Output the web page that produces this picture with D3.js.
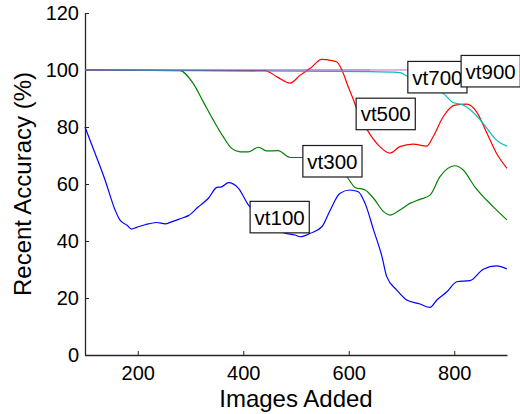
<!DOCTYPE html>
<html>
<head>
<meta charset="utf-8">
<script src="https://cdn.jsdelivr.net/npm/d3@7"></script>
<style>
  body { margin: 0; background: #fff; }
  svg { display: block; font-family: "Liberation Sans", Arial, sans-serif; }
</style>
</head>
<body>
<div id="chart"></div>
<script>
// values
var vt100X = [100,119,138,157,166,180,188,198,214,236,252,264,283,296,315,334,350,359,372,391,410,430,455,475,498,508,527,549,565,583,602,618,631,647,663,672,691,710,735,754,767,786,805,830,855,880,900];
var vt100Y = [80,70.8,61.4,50.9,47.4,45.5,44.2,44.8,45.7,46.5,46,46.7,48,48.9,52,55,58.8,59,60.5,58.5,52.6,49,45.5,43,42.1,41.5,42.7,45,50.9,56.7,57.9,57.3,53.2,43.9,34.5,27.5,22.8,19.3,17.9,16.7,19.3,22.2,25.7,26.1,30.1,31.3,30.2];

var vt300X = [100,280,305,324,343,362,378,394,410,429,444,466,489,511,530,550,570,596,612,631,647,666,678,697,716,735,754,773,801,817,839,874,900];
var vt300Y = [100,99.8,95.3,88.9,82.5,76.6,72.5,71.3,71.3,72.9,71.6,71.7,69.3,69.3,68.5,67,65,62.6,58.8,57.9,55,50.3,49.1,50.9,53.2,54.6,56.1,62.6,66.4,64.9,59,52,47.4];

var vt500X = [100,441,465,489,508,527,549,568,577,587,599,609,620,637,659,678,697,722,748,760,779,801,824,842,862,880,900];
var vt500Y = [100,99.8,97.5,95.4,98.2,100.6,103.7,103.3,102.9,100,94.1,89.5,84,78.4,73.1,70.8,73.1,74,73.3,76.6,83.6,87.7,88,85.4,77.8,70.8,65.5];

var vt700X = [100,640,697,710,730,755,779,798,817,842,862,880,900];
var vt700Y = [100,99.4,99.1,97.9,96,94,91.8,88.6,87.7,84,79.5,75.4,73.3];

var vt900X = [100,900];
var vt900Y = [100,100];

var labelNames = ["vt100","vt300","vt500","vt700","vt900"];
var labelX = [413,513,614,712,813];
var labelY = [48.4,68,84.6,97.5,99.6];

var xTicks = [200,400,600,800];
var yTicks = [0,20,40,60,80,100,120];

var series = [
  {x: vt100X, y: vt100Y, color: "#0000ff"},
  {x: vt300X, y: vt300Y, color: "#008000"},
  {x: vt500X, y: vt500Y, color: "#ff0000"},
  {x: vt700X, y: vt700Y, color: "#00bfbf"},
  {x: vt900X, y: vt900Y, color: "url(#purp)"}
];

var W = 520, H = 414;
var margin = {top: 13, right: 13, bottom: 59, left: 85};

var xScale = d3.scaleLinear().domain([100, 900]).range([margin.left, W - margin.right]);
var yScale = d3.scaleLinear().domain([0, 120]).range([H - margin.bottom, margin.top]);

var svg = d3.select("#chart").append("svg")
  .attr("width", W)
  .attr("height", H);

// vt900 sits under the other lines on the left, so it looks darker there
var grad = svg.append("defs").append("linearGradient")
  .attr("id", "purp")
  .attr("gradientUnits", "userSpaceOnUse")
  .attr("x1", xScale(100)).attr("x2", xScale(900))
  .attr("y1", 0).attr("y2", 0);
var split = (640 - 100) / 800;
grad.append("stop").attr("offset", 0).attr("stop-color", "#8e3fae");
grad.append("stop").attr("offset", split).attr("stop-color", "#8e3fae");
grad.append("stop").attr("offset", split).attr("stop-color", "#cc66cc");
grad.append("stop").attr("offset", 1).attr("stop-color", "#cc66cc");

//************************************************************
// axes
//************************************************************
var xAxis = d3.axisBottom(xScale).tickValues(xTicks).tickSizeInner(-4).tickSizeOuter(0).tickPadding(10);
var yAxis = d3.axisLeft(yScale).tickValues(yTicks).tickSizeInner(-4).tickSizeOuter(0).tickPadding(9);

var gX = svg.append("g")
  .attr("transform", "translate(0," + (H - margin.bottom) + ")")
  .call(xAxis);
var gY = svg.append("g")
  .attr("transform", "translate(" + margin.left + ",0)")
  .call(yAxis);

[gX, gY].forEach(function(g) {
  g.select(".domain").attr("stroke", "#262626").attr("stroke-width", 1.3);
  g.selectAll(".tick line").attr("stroke", "#262626");
  g.selectAll(".tick text")
    .attr("fill", "#000")
    .style("font-size", "20px")
    .style("font-family", "'Liberation Sans', Arial, sans-serif");
});
gX.selectAll(".tick text").attr("dy", "0.75em").attr("y", 10);
gY.selectAll(".tick text").attr("x", -6);

svg.append("text")
  .attr("x", (xScale(100) + xScale(900)) / 2)
  .attr("y", 407)
  .attr("text-anchor", "middle")
  .style("font-size", "24px")
  .text("Images Added");

svg.append("text")
  .attr("transform", "translate(31," + ((yScale(0) + yScale(120)) / 2) + ") rotate(-90)")
  .attr("text-anchor", "middle")
  .style("font-size", "24px")
  .text("Recent Accuracy (%)");

//************************************************************
// lines
//************************************************************
var line = d3.line()
  .x(function(d) { return xScale(d[0]); })
  .y(function(d) { return yScale(d[1]); })
  .curve(d3.curveMonotoneX);

svg.selectAll(".line")
  .data(series)
  .enter()
  .append("path")
  .attr("class", "line")
  .attr("fill", "none")
  .attr("stroke", function(d) { return d.color; })
  .attr("stroke-width", 1.2)
  .attr("d", function(d) { return line(d.x.map(function(v, i) { return [v, d.y[i]]; })); });

//************************************************************
// text boxes
//************************************************************
labelNames.forEach(function(name, i) {
  var g = svg.append("g");
  var left = xScale(labelX[i]);
  var top = yScale(labelY[i]) - 15.7;
  var rect = g.append("rect")
    .attr("fill", "#fff")
    .attr("stroke", "#1a1a1a")
    .attr("stroke-width", 1.2);
  var t = g.append("text")
    .attr("x", left + 4.5)
    .attr("y", top + 23.3)
    .style("font-size", "20.5px")
    .text(name);
  var w = t.node().getComputedTextLength();
  rect.attr("x", left).attr("y", top).attr("width", w + 9).attr("height", 31.5);
});
</script>
</body>
</html>
